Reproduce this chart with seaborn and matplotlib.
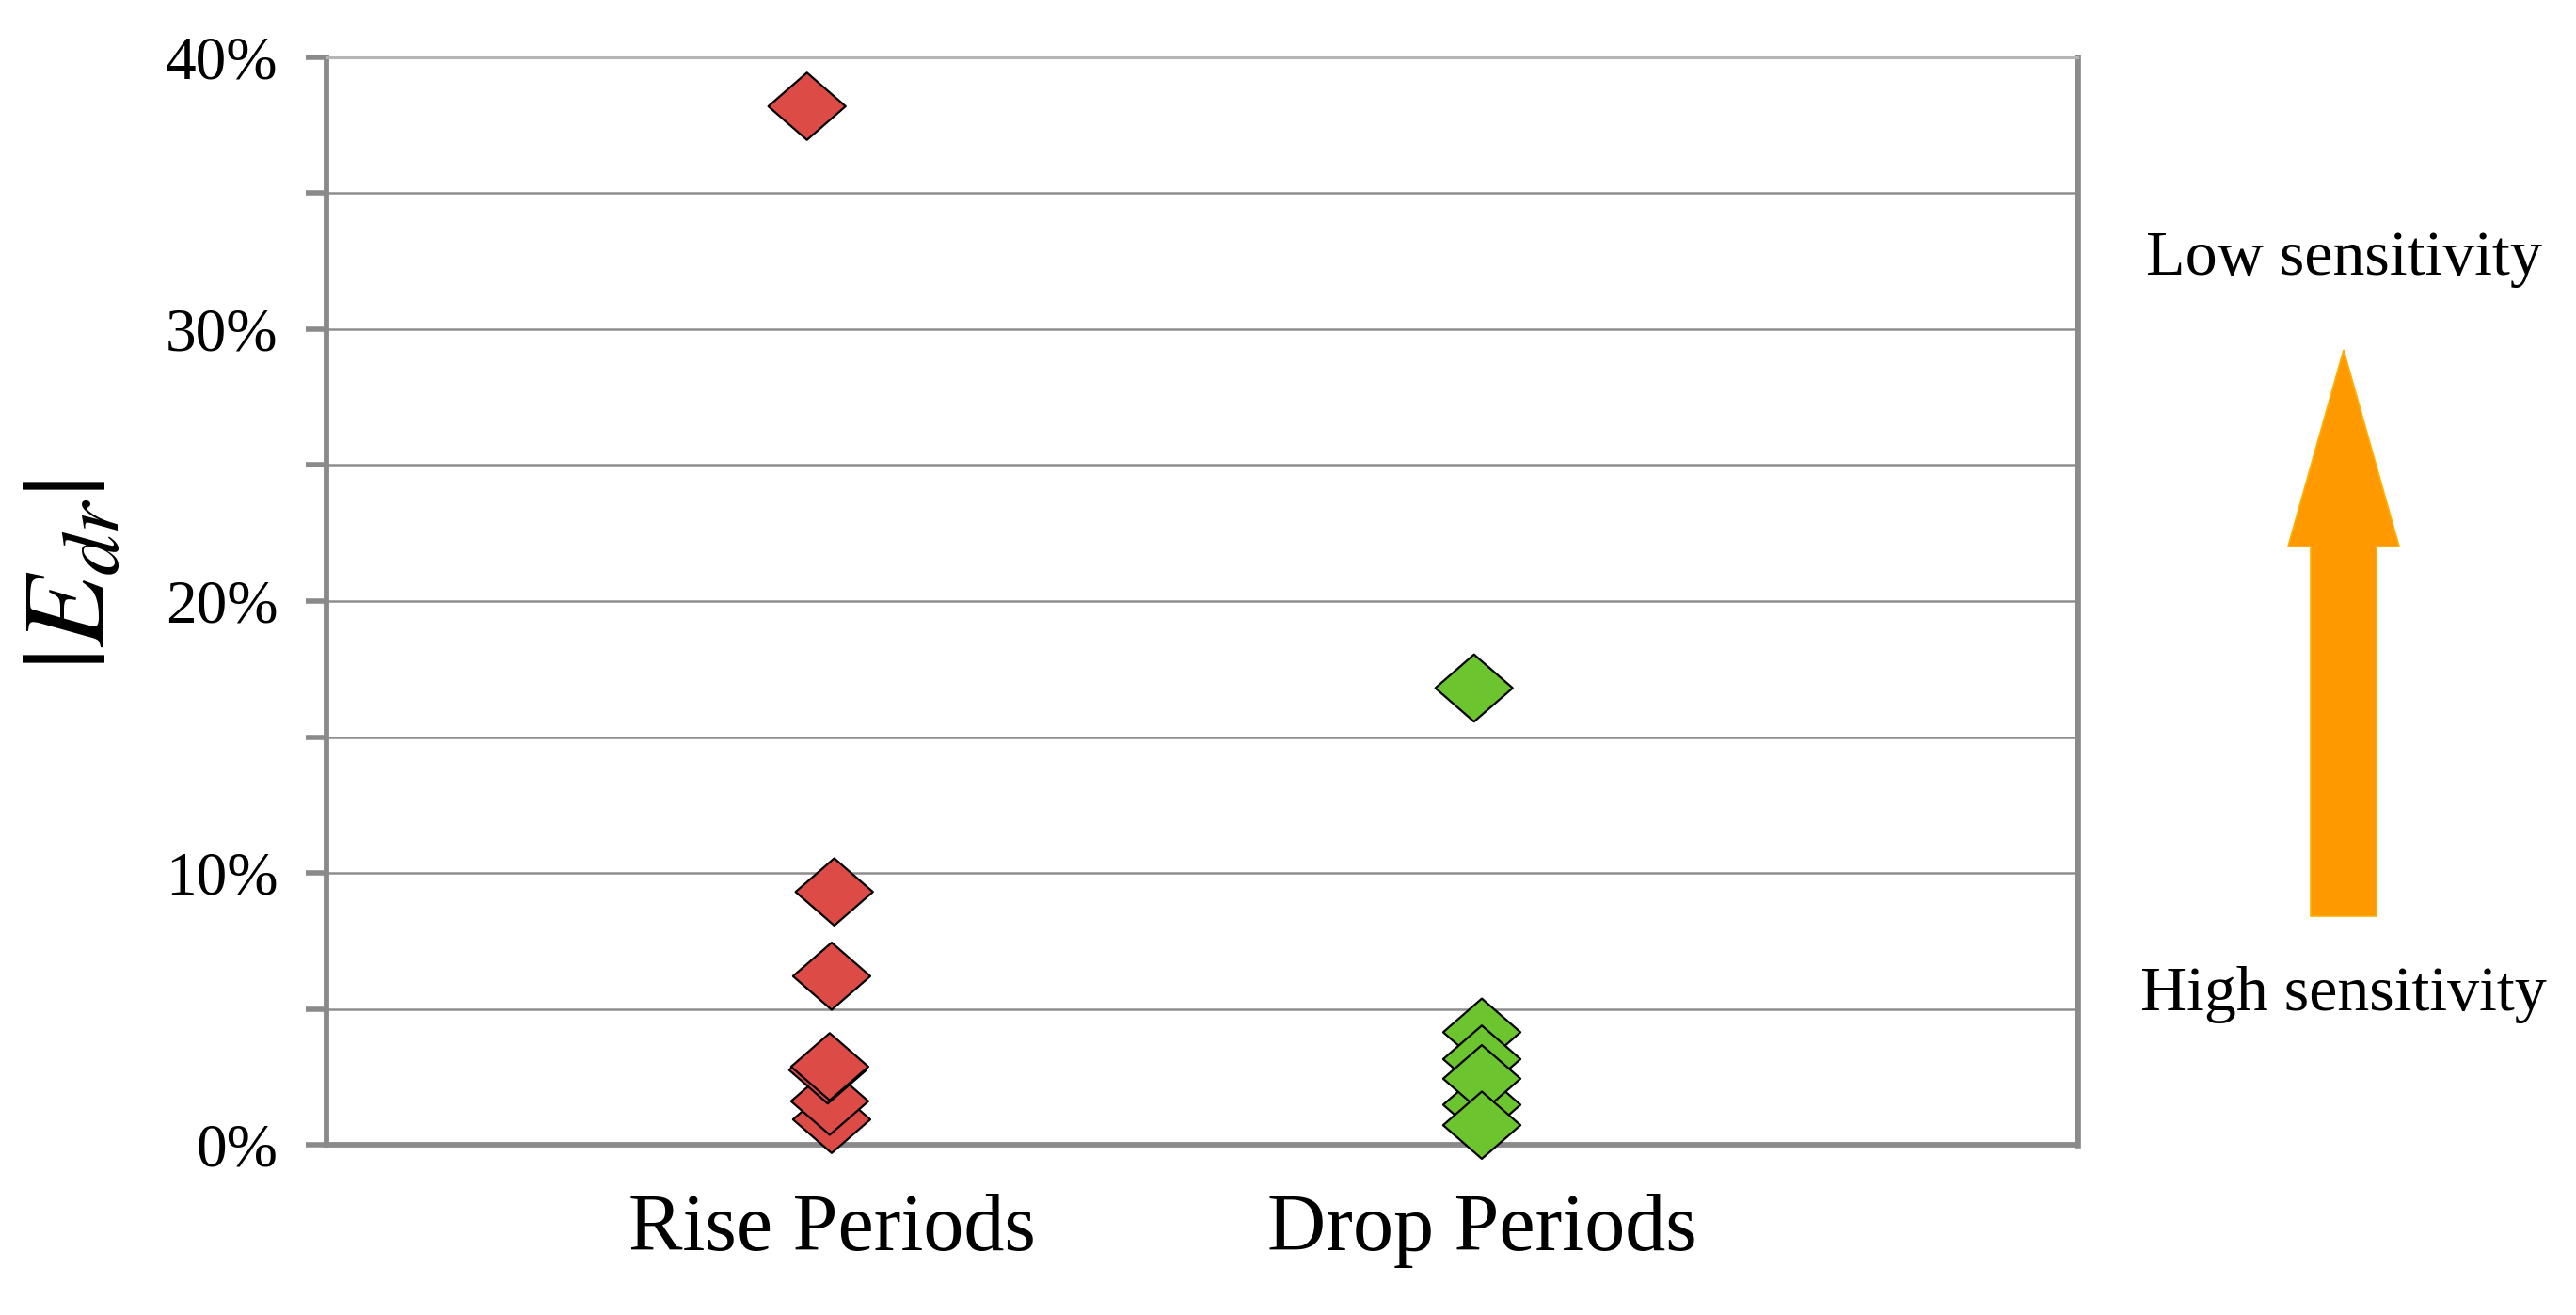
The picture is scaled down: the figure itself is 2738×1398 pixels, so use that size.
import matplotlib
matplotlib.use("Agg")
import matplotlib.pyplot as plt
import seaborn as sns
import pandas as pd
import numpy as np
from matplotlib.ticker import MultipleLocator, PercentFormatter
from matplotlib.patches import FancyArrow
from matplotlib.markers import MarkerStyle
from matplotlib.path import Path

# ---------------- data ----------------
categories = ["Rise Periods", "Drop Periods"]
rise_values = [0.382, 0.093, 0.062, 0.0093, 0.016, 0.0275, 0.0287]
rise_offsets = [-0.038, 0.004, 0.0, 0.0, -0.003, -0.006, -0.003]
drop_values = [0.168, 0.0414, 0.0315, 0.0147, 0.0243, 0.0072]
drop_offsets = [-0.012, 0.0, 0.0, 0.0, 0.0, 0.0]
y_label = r"$|E_{dr}|$"
top_note = "Low sensitivity"
bottom_note = "High sensitivity"
palette = {"Rise Periods": "#DD4B47", "Drop Periods": "#6CC52F"}

rows = []
for ci, (cat, vals, offs) in enumerate(zip(categories, [rise_values, drop_values],
                                           [rise_offsets, drop_offsets])):
    for v, o in zip(vals, offs):
        rows.append({"period": cat, "pos": ci + o, "value": v})
df = pd.DataFrame(rows)

# ---------------- style ----------------
sns.set_theme(style="white")
plt.rcParams["font.family"] = ["Liberation Serif", "DejaVu Serif"]
plt.rcParams["mathtext.fontset"] = "stix"

W, H = 2738, 1398
fig = plt.figure(figsize=(W / 100, H / 100), dpi=100)
ax = fig.add_axes([347 / W, 1 - 1217 / H, (2208 - 347) / W, (1217 - 61) / H])

diamond = MarkerStyle(Path([(0, 0.87), (1, 0), (0, -0.87), (-1, 0), (0, 0.87)],
                           [Path.MOVETO, Path.LINETO, Path.LINETO, Path.LINETO, Path.CLOSEPOLY]))

sns.scatterplot(data=df, x="pos", y="value", hue="period", palette=palette,
                marker=diamond, s=3500, edgecolor="black", linewidth=1.6,
                legend=False, ax=ax, zorder=3, clip_on=False)

ax.set_xlim(-0.777, 1.916)
ax.set_ylim(0, 0.40)
ax.set_xticks(range(len(categories)))
ax.set_xticklabels(categories)
ax.set_xlabel("")
ax.set_ylabel("")

ax.yaxis.set_major_locator(MultipleLocator(0.10))
ax.yaxis.set_minor_locator(MultipleLocator(0.05))
ax.yaxis.set_major_formatter(PercentFormatter(xmax=1, decimals=0))

grid_c = "#8e8e8e"
ax.grid(True, axis="y", which="both", color=grid_c, linewidth=1.8, zorder=0)
ax.grid(False, axis="x")
ax.set_axisbelow(True)

for side in ["left", "bottom"]:
    ax.spines[side].set_color("#8a8a8a")
    ax.spines[side].set_linewidth(4.2)
ax.spines["right"].set_color("#8a8a8a")
ax.spines["right"].set_linewidth(4.8)
ax.spines["top"].set_color("#b5b5b5")
ax.spines["top"].set_linewidth(2.2)

ax.tick_params(axis="y", which="both", direction="out", length=16, width=4,
               color="#8a8a8a", left=True, pad=21, labelsize=47, labelcolor="black")
ax.tick_params(axis="x", length=0, pad=37, labelsize=62, labelcolor="black")

# y-axis label
fig.text(80 / W, 1 - 611 / H, y_label, rotation=90, ha="center", va="center",
         fontsize=90, color="black")

# sensitivity notes and arrow
fig.text(2491 / W, 1 - 276 / H, top_note, ha="center", va="center",
         fontsize=49, color="black")
fig.text(2491 / W, 1 - 1058 / H, bottom_note, ha="center", va="center",
         fontsize=49, color="black")

arrow = FancyArrow(24.91, (H - 974) / 100, 0, (974 - 372) / 100,
                   width=0.70, head_width=1.18, head_length=2.09,
                   length_includes_head=True, transform=fig.dpi_scale_trans,
                   facecolor="#FF9900", edgecolor="#FFB000", linewidth=1.2)
fig.patches.append(arrow)

fig.savefig("out.png", dpi=100, facecolor="white")
